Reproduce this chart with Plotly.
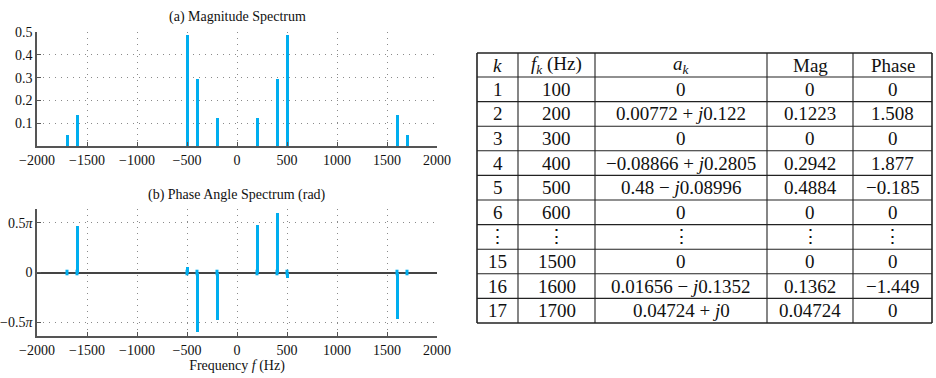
import math
import plotly.graph_objects as go

# ---------------- data ----------------
freqs = [-1700, -1600, -500, -400, -200, 200, 400, 500, 1600, 1700]
mags = [0.04724, 0.1362, 0.4884, 0.2942, 0.1223, 0.1223, 0.2942, 0.4884, 0.1362, 0.04724]
phases = [0, 1.449, 0.185, -1.877, -1.508, 1.508, 1.877, -0.185, -1.449, 0]

x_ticks = [-2000, -1500, -1000, -500, 0, 500, 1000, 1500, 2000]
x_ticktext = ["−2000", "−1500", "−1000", "−500", "0", "500", "1000", "1500", "2000"]
mag_ticks = [0.1, 0.2, 0.3, 0.4, 0.5]
mag_ticktext = ["0.1", "0.2", "0.3", "0.4", "0.5"]
phase_ticks = [-math.pi / 2, 0, math.pi / 2]
phase_ticktext = ["−0.5<i>π</i>", "0", "0.5<i>π</i>"]

tbl_header = ["<i>k</i>", "<i>f<sub>k</sub></i> (Hz)", "<i>a<sub>k</sub></i>", "Mag", "Phase"]
tbl_k = ["1", "2", "3", "4", "5", "6", "⋮", "15", "16", "17"]
tbl_f = ["100", "200", "300", "400", "500", "600", "⋮", "1500", "1600", "1700"]
tbl_a = ["0", "0.00772 + <i>j</i>0.122", "0", "−0.08866 + <i>j</i>0.2805",
         "0.48 − <i>j</i>0.08996", "0", "⋮", "0", "0.01656 − <i>j</i>0.1352",
         "0.04724 + <i>j</i>0"]
tbl_mag = ["0", "0.1223", "0", "0.2942", "0.4884", "0", "⋮", "0", "0.1362", "0.04724"]
tbl_phase = ["0", "1.508", "0", "1.877", "−0.185", "0", "⋮", "0", "−1.449", "0"]

# ---------------- style / layout geometry ----------------
W, H = 936, 378
STEM = "#00AEEF"
AX = "#555555"
GRID = "#8a8a8a"
FONT = "Liberation Serif"
TXT = "#111111"

col_edges = [477, 518, 595, 767, 853, 932]      # table column borders (px)
tbl_top, hdr_h, row_h = 53, 24, 24.6             # table rows (px)


def px_x(a, b):
    return [a / W, b / W]


def px_y(top, bottom):
    return [1 - bottom / H, 1 - top / H]


fig = go.Figure()

fig.add_trace(go.Bar(x=freqs, y=mags, width=30, marker=dict(color=STEM, line=dict(width=0)),
                     xaxis="x", yaxis="y", showlegend=False))
fig.add_trace(go.Bar(x=freqs, y=phases, width=30, marker=dict(color=STEM, line=dict(width=0)),
                     xaxis="x2", yaxis="y2", showlegend=False))
fig.add_trace(go.Scatter(x=freqs, y=[0] * len(freqs), mode="markers",
                         marker=dict(symbol="line-ns", size=4, line=dict(width=3, color=STEM)),
                         xaxis="x2", yaxis="y2", showlegend=False, hoverinfo="skip"))

common_x = dict(range=[-2000, 2000], tickvals=x_ticks, ticktext=x_ticktext,
                showline=True, linecolor=AX, linewidth=1.5, ticks="inside", ticklen=4,
                tickcolor=AX, showgrid=True, gridcolor=GRID, griddash="1px,5px", gridwidth=1,
                zeroline=False, tickfont=dict(family=FONT, size=14, color=TXT),
                fixedrange=True, automargin=False)
common_y = dict(showline=True, linecolor=AX, linewidth=1.5, ticks="inside", ticklen=4,
                tickcolor=AX, showgrid=True, gridcolor=GRID, griddash="1px,5px", gridwidth=1,
                tickfont=dict(family=FONT, size=14, color=TXT), fixedrange=True,
                automargin=False)

# ---------------- table drawn with shapes + annotations ----------------
columns = [tbl_k, tbl_f, tbl_a, tbl_mag, tbl_phase]
n_rows = len(tbl_k)
row_edges = [tbl_top, tbl_top + hdr_h] + [tbl_top + hdr_h + row_h * (i + 1) for i in range(n_rows)]
tbl_bottom = row_edges[-1]

shapes = []
for xe in col_edges:
    w = 1.6 if xe in (col_edges[0], col_edges[-1]) else 1.1
    shapes.append(dict(type="line", xref="paper", yref="paper", x0=xe / W, x1=xe / W,
                       y0=1 - tbl_top / H, y1=1 - tbl_bottom / H,
                       line=dict(color="#222", width=w)))
for ye in row_edges:
    w = 1.6 if ye in (row_edges[0], row_edges[-1]) else 1.1
    shapes.append(dict(type="line", xref="paper", yref="paper", x0=col_edges[0] / W,
                       x1=col_edges[-1] / W, y0=1 - ye / H, y1=1 - ye / H,
                       line=dict(color="#222", width=w)))

annotations = [
    dict(text="(a) Magnitude Spectrum", x=237 / W, y=1 - 17 / H, xref="paper", yref="paper",
         xanchor="center", yanchor="middle", showarrow=False,
         font=dict(family=FONT, size=14, color=TXT)),
    dict(text="(b) Phase Angle Spectrum (rad)", x=237 / W, y=1 - 195 / H, xref="paper",
         yref="paper", xanchor="center", yanchor="middle", showarrow=False,
         font=dict(family=FONT, size=14, color=TXT)),
]
for c in range(len(columns)):
    cx = (col_edges[c] + col_edges[c + 1]) / 2 / W
    cy = (row_edges[0] + row_edges[1]) / 2
    annotations.append(dict(text=tbl_header[c], x=cx, y=1 - cy / H, xref="paper", yref="paper",
                            xanchor="center", yanchor="middle", showarrow=False,
                            font=dict(family=FONT, size=19, color=TXT)))
    for r in range(n_rows):
        cy = (row_edges[r + 1] + row_edges[r + 2]) / 2
        annotations.append(dict(text=columns[c][r], x=cx, y=1 - cy / H, xref="paper",
                                yref="paper", xanchor="center", yanchor="middle",
                                showarrow=False, font=dict(family=FONT, size=19, color=TXT)))

fig.update_layout(
    width=W, height=H, margin=dict(l=0, r=0, t=0, b=0, autoexpand=False),
    paper_bgcolor="white", plot_bgcolor="white", bargap=0,
    font=dict(family=FONT, size=14, color=TXT),
    xaxis=dict(domain=px_x(37, 437), anchor="y", **common_x),
    yaxis=dict(domain=px_y(32, 146), anchor="x", range=[0, 0.5], tickvals=mag_ticks,
               ticktext=mag_ticktext, zeroline=False, **common_y),
    xaxis2=dict(domain=px_x(37, 437), anchor="y2",
                title=dict(text="Frequency <i>f</i> (Hz)", standoff=4,
                           font=dict(family=FONT, size=14, color=TXT)),
                **common_x),
    yaxis2=dict(domain=px_y(209, 336), anchor="x2", range=[-2, 2], tickvals=phase_ticks,
                ticktext=phase_ticktext, zeroline=True, zerolinecolor="#444",
                zerolinewidth=1.5, **common_y),
    shapes=shapes,
    annotations=annotations,
)

fig.write_html("out.html", config={"displayModeBar": False},
               post_script="document.body.style.margin='0';")
